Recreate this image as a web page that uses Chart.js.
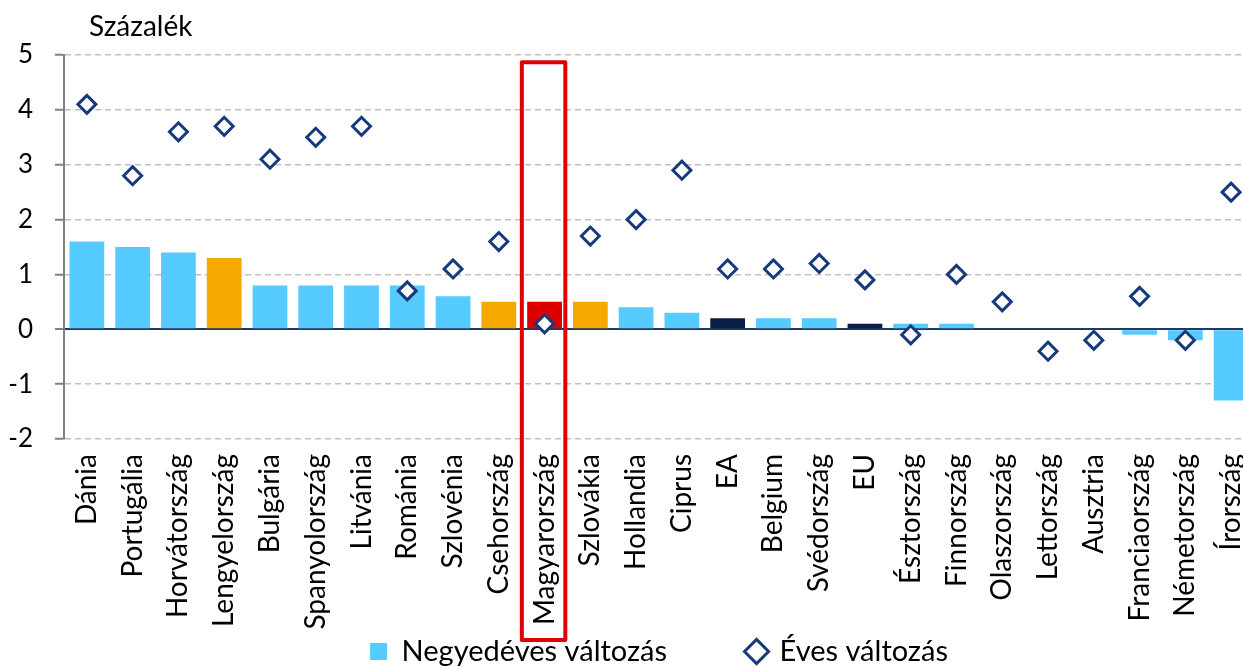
<!DOCTYPE html>
<html>
<head>
<meta charset="utf-8">
<script src="https://cdn.jsdelivr.net/npm/chart.js@4"></script>
<style>
  html, body { margin: 0; padding: 0; background: #fff; overflow: hidden; }
</style>
</head>
<body>
<!-- the plot runs slightly past the right edge of the window, as in the original -->
<canvas id="chart" width="1254" height="667"></canvas>
<script>
// categories and values
const countries = ['Dánia', 'Portugália', 'Horvátország', 'Lengyelország', 'Bulgária', 'Spanyolország',
  'Litvánia', 'Románia', 'Szlovénia', 'Csehország', 'Magyarország', 'Szlovákia', 'Hollandia', 'Ciprus',
  'EA', 'Belgium', 'Svédország', 'EU', 'Észtország', 'Finnország', 'Olaszország', 'Lettország',
  'Ausztria', 'Franciaország', 'Németország', 'Írország'];
const quarterly = [1.6, 1.5, 1.4, 1.3, 0.8, 0.8, 0.8, 0.8, 0.6, 0.5, 0.5, 0.5, 0.4, 0.3,
  0.2, 0.2, 0.2, 0.1, 0.1, 0.1, 0, 0, 0, -0.1, -0.2, -1.3];
const annual = [4.1, 2.8, 3.6, 3.7, 3.1, 3.5, 3.7, 0.7, 1.1, 1.6, 0.1, 1.7, 2.0, 2.9,
  1.1, 1.1, 1.2, 0.9, -0.1, 1.0, 0.5, -0.4, -0.2, 0.6, -0.2, 2.5];
const yTicks = [-2, -1, 0, 1, 2, 3, 4, 5];

const visegrad = ['Lengyelország', 'Csehország', 'Szlovákia'];
const aggregates = ['EA', 'EU'];
const highlighted = 'Magyarország';

const barColors = countries.map(c => {
  if (c === highlighted) return '#dc0000';
  if (visegrad.includes(c)) return '#f5a800';
  if (aggregates.includes(c)) return '#0b1e47';
  return '#55cbff';
});

const extras = {
  id: 'extras',
  afterDatasetsDraw(chart) {
    const {ctx, scales: {x, y}} = chart;
    const i = countries.indexOf(highlighted);
    const half = (x.getPixelForValue(1) - x.getPixelForValue(0)) * 0.475;
    const cx = x.getPixelForValue(i) - 1;
    const top = y.getPixelForValue(4.87);
    const bottom = 640;
    ctx.save();
    ctx.strokeStyle = '#e00000';
    ctx.lineWidth = 4;
    ctx.lineJoin = 'round';
    ctx.strokeRect(cx - half, top, half * 2, bottom - top);
    ctx.restore();
  },
  afterDraw(chart) {
    const ctx = chart.ctx;
    ctx.save();
    ctx.font = '28px Lato';
    ctx.fillStyle = '#000';
    ctx.textBaseline = 'alphabetic';
    ctx.fillText('Százalék', 89, 36);
    ctx.restore();
  }
};

const legendPad = 81;

const config = {
  type: 'bar',
  data: {
    labels: countries,
    datasets: [{
      label: 'Negyedéves változás',
      data: quarterly,
      backgroundColor: barColors,
      pointStyle: 'rect',
      categoryPercentage: 1,
      barPercentage: 0.76,
      order: 1
    }, {
      type: 'line',
      label: 'Éves változás',
      data: annual,
      showLine: false,
      pointStyle: 'rectRot',
      pointRadius: 9,
      pointBorderWidth: 3,
      borderWidth: 3,
      borderColor: '#173a7a',
      backgroundColor: '#ffffff',
      pointBackgroundColor: '#ffffff',
      order: 0
    }]
  },
  options: {
    responsive: false,
    animation: false,
    layout: { autoPadding: false, padding: { top: 55, left: 0, right: 0, bottom: -9 } },
    plugins: {
      tooltip: { enabled: false },
      legend: {
        position: 'bottom',
        fullSize: false,
        labels: {
          usePointStyle: true,
          boxWidth: 17,
          boxHeight: 17,
          padding: legendPad,
          color: '#000',
          font: { family: 'Lato', size: 29 },
          sort: (a, b) => a.datasetIndex - b.datasetIndex
        }
      }
    },
    scales: {
      x: {
        grid: { display: false, drawTicks: false },
        border: { display: false },
        ticks: {
          autoSkip: false,
          minRotation: 90,
          maxRotation: 90,
          padding: 15,
          color: '#000',
          font: { family: 'Lato', size: 28 }
        },
        afterFit: s => {
          s.height = 198 - legendPad;
          s.paddingLeft = 0;
          s.paddingRight = 0;
          // the long rotated names run down past the axis box, into the legend band
          s._computeLabelArea = () => undefined;
        }
      },
      y: {
        min: -2,
        max: 5,
        afterBuildTicks: s => { s.ticks = yTicks.map(v => ({ value: v })); },
        grid: {
          color: c => c.tick && c.tick.value === 0 ? '#1f3864' : '#bfbfbf',
          lineWidth: c => c.tick && c.tick.value === 0 ? 2 : 1.5,
          tickColor: '#808080',
          tickLength: 9,
          tickWidth: 2
        },
        border: {
          display: true,
          color: '#808080',
          width: 2,
          dash: c => c.tick && c.tick.value === 0 ? [] : [6, 4]
        },
        ticks: {
          padding: 22,
          color: '#000',
          font: { family: 'Lato', size: 26 }
        },
        afterFit: s => { s.width = 64; }
      }
    }
  },
  plugins: [extras]
};

const chart = new Chart(document.getElementById('chart'), config);
</script>
</body>
</html>
